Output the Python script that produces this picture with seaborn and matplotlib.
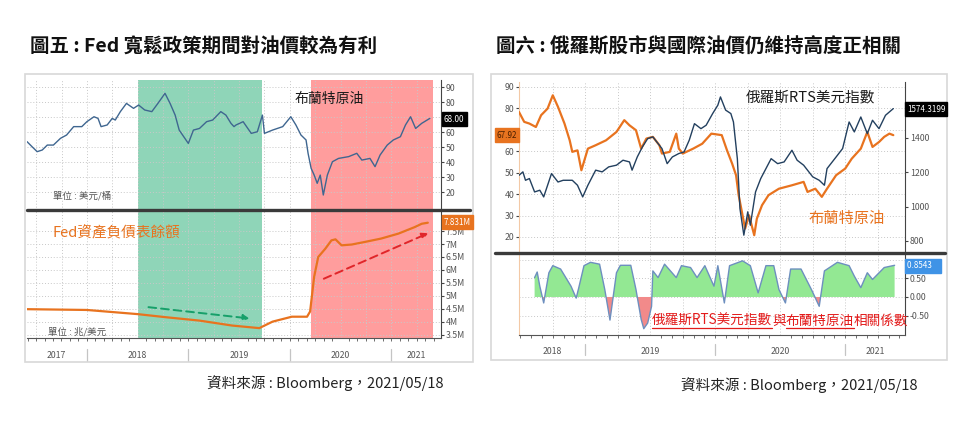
import numpy as np
import matplotlib
matplotlib.use("Agg")
import matplotlib.pyplot as plt
from matplotlib.patches import Rectangle
from matplotlib.lines import Line2D
import seaborn as sns

# ---- values (x = decimal year) ----

# chart 5: Brent (USD/bbl) and Fed balance sheet (USD trn)
brent_l_t = [2017.41, 2017.46, 2017.51, 2017.56, 2017.61, 2017.67, 2017.74, 2017.80,
             2017.87, 2017.95, 2018.00, 2018.07, 2018.11, 2018.14, 2018.20, 2018.25,
             2018.28, 2018.33, 2018.39, 2018.46, 2018.51, 2018.57, 2018.64, 2018.70,
             2018.77, 2018.82, 2018.87, 2018.91, 2019.00, 2019.05, 2019.11, 2019.18,
             2019.24, 2019.32, 2019.37, 2019.42, 2019.45, 2019.47, 2019.54, 2019.62,
             2019.68, 2019.73, 2019.75, 2019.83, 2019.93, 2020.01, 2020.06, 2020.11,
             2020.16, 2020.18, 2020.21, 2020.24, 2020.27, 2020.30, 2020.33, 2020.37,
             2020.42, 2020.48, 2020.58, 2020.66, 2020.71, 2020.79, 2020.84, 2020.89,
             2020.96, 2021.02, 2021.09, 2021.14, 2021.19, 2021.24, 2021.30, 2021.38]
brent_l_v = [53.6, 50.2, 46.9, 48.0, 51.3, 51.3, 55.8, 58.0,
             63.6, 63.6, 66.9, 70.2, 69.1, 63.6, 64.7, 69.1,
             68.0, 73.6, 79.1, 75.8, 78.0, 74.7, 73.6, 79.1,
             85.8, 79.1, 71.3, 61.3, 52.4, 61.3, 62.4, 66.9,
             68.0, 73.6, 71.3, 65.8, 63.6, 64.7, 66.9, 59.1,
             60.2, 71.3, 59.1, 61.3, 63.6, 70.2, 64.7, 58.0,
             54.7, 45.8, 35.8, 31.3, 25.8, 31.3, 18.0, 31.3,
             40.2, 42.4, 43.6, 45.8, 41.3, 42.4, 36.9, 44.7,
             51.3, 54.7, 56.9, 64.7, 70.2, 62.4, 65.8, 69.1]

fed_t = [2017.41, 2018.00, 2018.50, 2018.78, 2019.11, 2019.43, 2019.70, 2019.73,
         2019.83, 2019.96, 2020.02, 2020.17, 2020.20, 2020.24, 2020.28, 2020.35,
         2020.41, 2020.45, 2020.51, 2020.61, 2020.74, 2020.90, 2021.07, 2021.23,
         2021.30, 2021.36]
fed_v = [4.49, 4.46, 4.30, 4.18, 4.05, 3.86, 3.76, 3.82,
         4.01, 4.14, 4.20, 4.20, 4.40, 5.74, 6.50, 6.82,
         7.14, 7.18, 6.95, 6.98, 7.08, 7.21, 7.40, 7.65,
         7.78, 7.82]

qt_span = (2018.50, 2019.73)   # green: balance sheet shrinking
qe_span = (2020.21, 2021.41)   # red: balance sheet expanding

oil_ticks = [20, 30, 40, 50, 60, 70, 80, 90]
oil_labels = ["20", "30", "40", "50", "60", "", "80", "90"]   # 70 sits under the 68.00 tag
fed_ticks = [3.5, 4.0, 4.5, 5.0, 5.5, 6.0, 6.5, 7.0, 7.5]
fed_labels = ["3.5M", "4M", "4.5M", "5M", "5.5M", "6M", "6.5M", "7M", "7.5M"]
years_l = ["2017", "2018", "2019", "2020", "2021"]
years_l_pos = [2017.70, 2018.5, 2019.5, 2020.5, 2021.245]

# chart 6: Brent, RTS index (USD) and their rolling correlation
brent_r_t = [2018.49, 2018.53, 2018.57, 2018.62, 2018.66, 2018.71, 2018.75, 2018.79,
             2018.84, 2018.88, 2018.90, 2018.94, 2018.97, 2019.02, 2019.08, 2019.16,
             2019.24, 2019.30, 2019.34, 2019.39, 2019.43, 2019.47, 2019.52, 2019.57,
             2019.59, 2019.65, 2019.70, 2019.72, 2019.75, 2019.83, 2019.90, 2019.97,
             2020.05, 2020.09, 2020.13, 2020.16, 2020.18, 2020.21, 2020.23, 2020.26,
             2020.30, 2020.32, 2020.36, 2020.41, 2020.49, 2020.59, 2020.68, 2020.71,
             2020.77, 2020.82, 2020.86, 2020.93, 2021.00, 2021.05, 2021.12, 2021.17,
             2021.21, 2021.26, 2021.30, 2021.34, 2021.37]
brent_r_v = [78.3, 73.7, 72.9, 71.3, 76.8, 79.9, 86.1, 80.7,
             72.9, 65.1, 59.7, 60.4, 51.1, 61.2, 62.8, 65.1,
             69.0, 74.5, 72.1, 69.8, 61.2, 65.9, 66.7, 62.8,
             58.9, 59.7, 68.2, 61.2, 58.9, 61.2, 63.5, 68.2,
             67.5, 60.5, 54.2, 48.8, 39.5, 30.1, 23.9, 30.1,
             20.8, 28.5, 34.8, 39.5, 42.5, 44.1, 45.7, 41.0,
             42.5, 38.7, 42.5, 48.8, 51.9, 56.5, 61.2, 69.0,
             62.0, 64.3, 66.7, 68.2, 67.5]

rts_t = [2018.49, 2018.52, 2018.54, 2018.57, 2018.61, 2018.65, 2018.68, 2018.74,
         2018.79, 2018.83, 2018.90, 2018.94, 2018.98, 2019.02, 2019.08, 2019.13,
         2019.18, 2019.24, 2019.29, 2019.34, 2019.36, 2019.40, 2019.44, 2019.48,
         2019.52, 2019.56, 2019.59, 2019.63, 2019.67, 2019.72, 2019.76, 2019.80,
         2019.84, 2019.89, 2019.93, 2019.98, 2020.02, 2020.04, 2020.08, 2020.12,
         2020.14, 2020.17, 2020.19, 2020.22, 2020.25, 2020.27, 2020.31, 2020.35,
         2020.39, 2020.43, 2020.48, 2020.53, 2020.59, 2020.63, 2020.68, 2020.75,
         2020.80, 2020.84, 2020.86, 2020.93, 2020.98, 2021.03, 2021.07, 2021.12,
         2021.17, 2021.21, 2021.26, 2021.31, 2021.37]
rts_v = [1182, 1202, 1153, 1163, 1085, 1095, 1056, 1192,
         1143, 1153, 1153, 1124, 1056, 1124, 1212, 1202,
         1231, 1241, 1270, 1260, 1212, 1289, 1348, 1396,
         1406, 1367, 1338, 1250, 1289, 1309, 1318, 1387,
         1483, 1454, 1474, 1542, 1591, 1639, 1562, 1542,
         1493, 1279, 988, 833, 969, 891, 1085, 1163,
         1221, 1279, 1250, 1260, 1328, 1270, 1241, 1173,
         1153, 1124, 1221, 1289, 1338, 1493, 1435, 1522,
         1425, 1503, 1454, 1532, 1571]

corr_t = [2018.61, 2018.63, 2018.65, 2018.68, 2018.72, 2018.75, 2018.81, 2018.89,
          2018.93, 2018.95, 2018.99, 2019.04, 2019.11, 2019.15, 2019.19, 2019.24,
          2019.27, 2019.35, 2019.39, 2019.43, 2019.45, 2019.48, 2019.51, 2019.52,
          2019.56, 2019.61, 2019.70, 2019.74, 2019.81, 2019.86, 2019.92, 2019.99,
          2020.02, 2020.07, 2020.11, 2020.21, 2020.27, 2020.33, 2020.39, 2020.45,
          2020.49, 2020.54, 2020.58, 2020.66, 2020.74, 2020.80, 2020.84, 2020.94,
          2021.03, 2021.07, 2021.12, 2021.17, 2021.21, 2021.30, 2021.38]
corr_v = [0.52, 0.67, 0.29, -0.16, 0.65, 0.84, 0.75, 0.29,
          -0.03, 0.25, 0.84, 0.93, 0.88, 0.20, -0.62, 0.65,
          0.85, 0.85, 0.20, -0.60, -0.85, -0.70, -0.25, 0.70,
          0.52, 0.88, 0.52, 0.84, 0.79, 0.52, 0.84, 0.29,
          0.84, -0.16, 0.84, 0.97, 0.84, 0.11, 0.84, 0.84,
          0.20, -0.16, 0.75, 0.75, 0.20, -0.25, 0.70, 0.93,
          0.84, 0.56, 0.25, 0.65, 0.47, 0.79, 0.85]

brent_r_ticks = [20, 30, 40, 50, 60, 70, 80, 90]
brent_r_labels = ["20", "30", "40", "50", "60", "", "80", "90"]  # 70 under the 67.92 tag
rts_ticks = [800, 1000, 1200, 1400, 1600]
rts_labels = ["800", "1000", "1200", "1400", ""]                 # 1600 under the price tag
corr_ticks = [-0.5, 0.0, 0.5, 1.0]
corr_labels = ["-0.50", "0.00", "0.50", ""]                      # 1.00 under the 0.8543 tag
years_r = ["2018", "2019", "2020", "2021"]
years_r_pos = [2018.745, 2019.5, 2020.5, 2021.23]

ORANGE = "#e8731f"
OIL_BLUE = "#3f6690"
RTS_BLUE = "#23405f"
GRID = "#c8c8c8"
TICK = "#555555"

sns.set_theme(style="white")
plt.rcParams["font.family"] = ["Noto Sans CJK TC", "DejaVu Sans"]

W, H = 964, 424
fig = plt.figure(figsize=(W / 100, H / 100), dpi=100)
fig.patch.set_facecolor("white")


def px_axes(x0, y0, x1, y1):
    return fig.add_axes([x0 / W, 1 - y1 / H, (x1 - x0) / W, (y1 - y0) / H])


def px_text(x, y, s, **kw):
    kw.setdefault("va", "center")
    return fig.text(x / W, 1 - y / H, s, **kw)


def px_line(x0, x1, y, **kw):
    fig.add_artist(Line2D([x0 / W, x1 / W], [1 - y / H, 1 - y / H],
                          transform=fig.transFigure, **kw))


def px_box(x0, y0, x1, y1):
    fig.add_artist(Rectangle((x0 / W, 1 - y1 / H), (x1 - x0) / W, (y1 - y0) / H,
                             transform=fig.transFigure, fill=False,
                             ec="#d8d8d8", lw=1.2))


def style_axis(ax, yticks, ylabels, side="right"):
    for s in ax.spines.values():
        s.set_visible(False)
    ax.spines[side].set_visible(True)
    ax.spines[side].set_color("#444444")
    ax.spines[side].set_linewidth(0.8)
    if side == "right":
        ax.yaxis.tick_right()
    else:
        ax.yaxis.tick_left()
    ax.set_yticks(yticks)
    ax.set_yticklabels(ylabels)
    ax.tick_params(axis="y", which="both", length=2.5, width=0.8, pad=1,
                   labelsize=6.3, colors=TICK, direction="out")
    ax.tick_params(axis="y", color="#444444")
    ax.set_xticks([])
    ax.set_xlabel("")
    ax.set_ylabel("")


def grid(ax, xs, ys):
    for x in xs:
        ax.axvline(x, color=GRID, lw=0.7, ls=(0, (1, 2)), zorder=0.5)
    for y in ys:
        ax.axhline(y, color=GRID, lw=0.7, ls=(0, (1, 2)), zorder=0.5)


def year_axis(ax, x0, x1, labels, pos, sep_px=(12, 22)):
    ax.spines["bottom"].set_visible(True)
    ax.spines["bottom"].set_color("#555555")
    ax.spines["bottom"].set_linewidth(0.8)
    months = np.arange(np.ceil(x0 * 12) / 12, x1, 1 / 12)
    ax.set_xticks(months, minor=True)
    ax.set_xticks(pos)
    ax.set_xticklabels(labels)
    ax.tick_params(axis="x", which="minor", length=2.2, width=0.6,
                   color="#555555", direction="out", bottom=True)
    ax.tick_params(axis="x", which="major", length=0, pad=9,
                   labelsize=6.3, labelcolor=TICK, bottom=True)
    h_px = ax.get_position().height * H
    for yb in range(int(np.ceil(x0)), int(np.ceil(x1))):
        ax.plot([yb, yb], [-sep_px[0] / h_px, -sep_px[1] / h_px],
                transform=ax.get_xaxis_transform(),
                color="#c4c4c4", lw=0.9, clip_on=False)


# ====================== chart 5 ======================
px_text(30, 47, "圖五 : Fed 寬鬆政策期間對油價較為有利", fontsize=14,
        fontweight="bold", color="#111111")
px_box(25, 74, 473, 362)

xl = (2017.41, 2021.49)
quarters_l = np.arange(2017.5, 2021.5, 0.25)

ax1 = px_axes(27, 80, 441, 210)
ax2 = px_axes(27, 210, 441, 338)
for ax in (ax1, ax2):
    ax.axvspan(*qt_span, color="#8fd5b8", lw=0, zorder=0)
    ax.axvspan(*qe_span, color="#ff9d9d", lw=0, zorder=0)
    ax.set_xlim(*xl)

sns.lineplot(x=brent_l_t, y=brent_l_v, ax=ax1, color=OIL_BLUE, lw=1.0,
             estimator=None, zorder=3)
ax1.set_ylim(8, 94.7)
style_axis(ax1, oil_ticks, oil_labels)
grid(ax1, quarters_l, oil_ticks)

sns.lineplot(x=fed_t, y=fed_v, ax=ax2, color=ORANGE, lw=1.6,
             estimator=None, zorder=3)
ax2.set_ylim(3.38, 8.31)
style_axis(ax2, fed_ticks, fed_labels)
grid(ax2, quarters_l, fed_ticks)
ax2.set_xlim(*xl)
year_axis(ax2, xl[0], xl[1], years_l, years_l_pos, sep_px=(11, 23))

ax2.annotate("", xy=(2019.63, 4.12), xytext=(2018.58, 4.58),
             arrowprops=dict(arrowstyle="-|>", color="#17a06a", lw=1.4,
                             ls=(0, (4, 2.5)), mutation_scale=9))
ax2.annotate("", xy=(2021.39, 7.46), xytext=(2020.31, 5.62),
             arrowprops=dict(arrowstyle="-|>", color="#e0262a", lw=1.4,
                             ls=(0, (4, 2.5)), mutation_scale=9))

px_line(27, 470, 210, color="#3a3a3a", lw=2.4)

px_text(295, 99, "布蘭特原油", fontsize=10, color="#1a1a1a", fontweight="medium")
px_text(53, 233, "Fed資產負債表餘額", fontsize=10.5, color=ORANGE)
px_text(53, 196, "單位 : 美元/桶", fontsize=6.8, color="#555555")
px_text(48, 332, "單位 : 兆/美元", fontsize=6.8, color="#555555")
px_text(444, 119, "68.00", fontsize=5.8, color="white",
        bbox=dict(boxstyle="square,pad=0.25", fc="black", ec="black"))
px_text(444, 222, "7.831M", fontsize=5.8, color="white",
        bbox=dict(boxstyle="square,pad=0.25", fc=ORANGE, ec=ORANGE))
px_text(207, 383, "資料來源 : Bloomberg，2021/05/18", fontsize=10.5, color="#222222")

# ====================== chart 6 ======================
px_text(496, 47, "圖六 : 俄羅斯股市與國際油價仍維持高度正相關", fontsize=14,
        fontweight="bold", color="#111111")
px_box(491, 74, 947, 360)

xr = (2018.49, 2021.46)
quarters_r = np.arange(2018.75, 2021.5, 0.25)

ax3 = px_axes(519, 82, 905, 253)
ax3.set_xlim(*xr)
sns.lineplot(x=brent_r_t, y=brent_r_v, ax=ax3, color=ORANGE, lw=1.6,
             estimator=None, zorder=3)
ax3.set_ylim(12.5, 92.3)
style_axis(ax3, brent_r_ticks, brent_r_labels, side="left")
ax3.spines["left"].set_color("#f3c9a6")
grid(ax3, quarters_r, brent_r_ticks)

ax3r = ax3.twinx()
sns.lineplot(x=rts_t, y=rts_v, ax=ax3r, color=RTS_BLUE, lw=1.0,
             estimator=None, zorder=4)
ax3r.set_ylim(729, 1726)
ax3r.set_xlim(*xr)
style_axis(ax3r, rts_ticks, rts_labels)

ax4 = px_axes(519, 253, 905, 335)
ax4.set_xlim(*xr)
ct = np.array(corr_t)
cv = np.array(corr_v)
ax4.fill_between(ct, 0, cv, where=cv >= 0, interpolate=True,
                 color="#93e893", lw=0, zorder=2)
ax4.fill_between(ct, 0, cv, where=cv <= 0, interpolate=True,
                 color="#f28a8a", lw=0, zorder=2)
sns.lineplot(x=corr_t, y=corr_v, ax=ax4, color="#6d8fbf", lw=1.0,
             estimator=None, zorder=3)
ax4.set_ylim(-1.02, 1.18)
style_axis(ax4, corr_ticks, corr_labels)
ax4.spines["left"].set_visible(True)
ax4.spines["left"].set_color("#f3c9a6")
ax4.spines["left"].set_linewidth(0.8)
grid(ax4, quarters_r, corr_ticks)
ax4.set_xlim(*xr)
year_axis(ax4, xr[0], xr[1], years_r, years_r_pos, sep_px=(9, 20))

px_line(495, 945, 253, color="#3a3a3a", lw=2.4)

px_text(746, 97, "俄羅斯RTS美元指數", fontsize=10.5, color="#1a1a1a")
px_text(809, 219, "布蘭特原油", fontsize=11, color=ORANGE)
px_text(497, 135, "67.92", fontsize=5.8, color="#4a1e00",
        bbox=dict(boxstyle="square,pad=0.25", fc=ORANGE, ec=ORANGE))
px_text(907, 109, "1574.3199", fontsize=5.8, color="white",
        bbox=dict(boxstyle="square,pad=0.25", fc="black", ec="black"))
px_text(907, 266, "0.8543    ", fontsize=5.8, color="white",
        bbox=dict(boxstyle="square,pad=0.25", fc="#3f93e6", ec="#3f93e6"))

# red caption with two underlined parts
renderer = fig.canvas.get_renderer()
cx = 652
for piece, underline in [("俄羅斯RTS美元指數", True), ("與", False),
                         ("布蘭特原油", True), ("相關係數", False)]:
    t = px_text(cx, 321, piece, fontsize=9.8, color="#e31b1b")
    bb = t.get_window_extent(renderer)
    if underline:
        px_line(bb.x0, bb.x1, 328, color="#e31b1b", lw=0.9)
    cx = bb.x1

px_text(681, 385, "資料來源 : Bloomberg，2021/05/18", fontsize=10.5, color="#222222")

fig.savefig("out.png", dpi=100)
